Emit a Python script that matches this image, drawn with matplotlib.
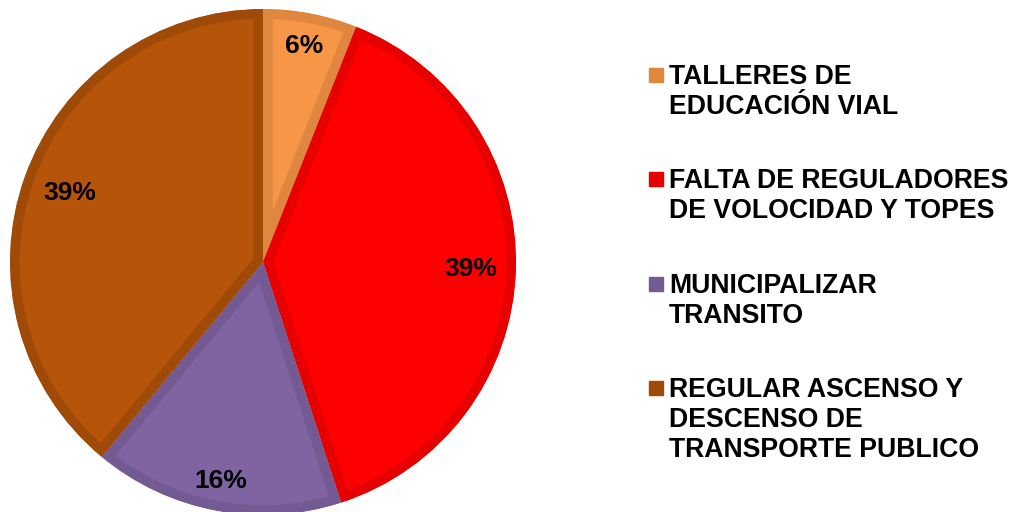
import numpy as np
import matplotlib.pyplot as plt

plt.rcParams['font.family'] = ['Liberation Sans', 'DejaVu Sans']

labels = ['TALLERES DE\nEDUCACIÓN VIAL',
          'FALTA DE REGULADORES\nDE VOLOCIDAD Y TOPES',
          'MUNICIPALIZAR\nTRANSITO',
          'REGULAR ASCENSO Y\nDESCENSO DE\nTRANSPORTE PUBLICO']
values = [6, 39, 16, 39]

face_colors = ['#F79646', '#FF0000', '#8064A2', '#B6540A']
edge_colors = ['#DF873F', '#E60000', '#735A92', '#A04A08']
label_radius = [0.87, 0.82, 0.88, 0.81]

fig = plt.figure(figsize=(10.21, 5.12), dpi=100)
R = 253
cx, cy = 263, 250
ax = fig.add_axes([(cx - R) / 1021, (cy - R) / 512, 2 * R / 1021, 2 * R / 512])

wedges, _ = ax.pie(values, colors=face_colors, startangle=90, counterclock=False,
                   radius=1, wedgeprops=dict(linewidth=14))
ax.set_xlim(-1, 1)
ax.set_ylim(-1, 1)
ax.set_aspect('equal')
ax.axis('off')

for w, ec in zip(wedges, edge_colors):
    w.set_edgecolor(ec)
    # keep the border inside each slice (pie turns clipping off)
    w.set_clip_on(True)
    w.set_clip_path(w.get_path(), w.get_transform())

for w, v, r in zip(wedges, values, label_radius):
    ang = np.deg2rad((w.theta1 + w.theta2) / 2)
    ax.text(r * np.cos(ang), r * np.sin(ang), f'{v}%', ha='center', va='center',
            fontsize=19, fontweight='bold', color='black')

# legend
top_px = [75, 179, 284, 388]
for lab, ec, y in zip(labels, edge_colors, top_px):
    fy = 1 - y / 512
    fig.patches.append(plt.Rectangle((649 / 1021, fy - 7 / 512), 14 / 1021, 14 / 512,
                                     transform=fig.transFigure, color=ec))
    fig.text(669 / 1021, fy + 11 / 512, lab, ha='left', va='top', fontsize=19.2,
             fontweight='bold', linespacing=1.2)

fig.savefig('out.png', dpi=100)
